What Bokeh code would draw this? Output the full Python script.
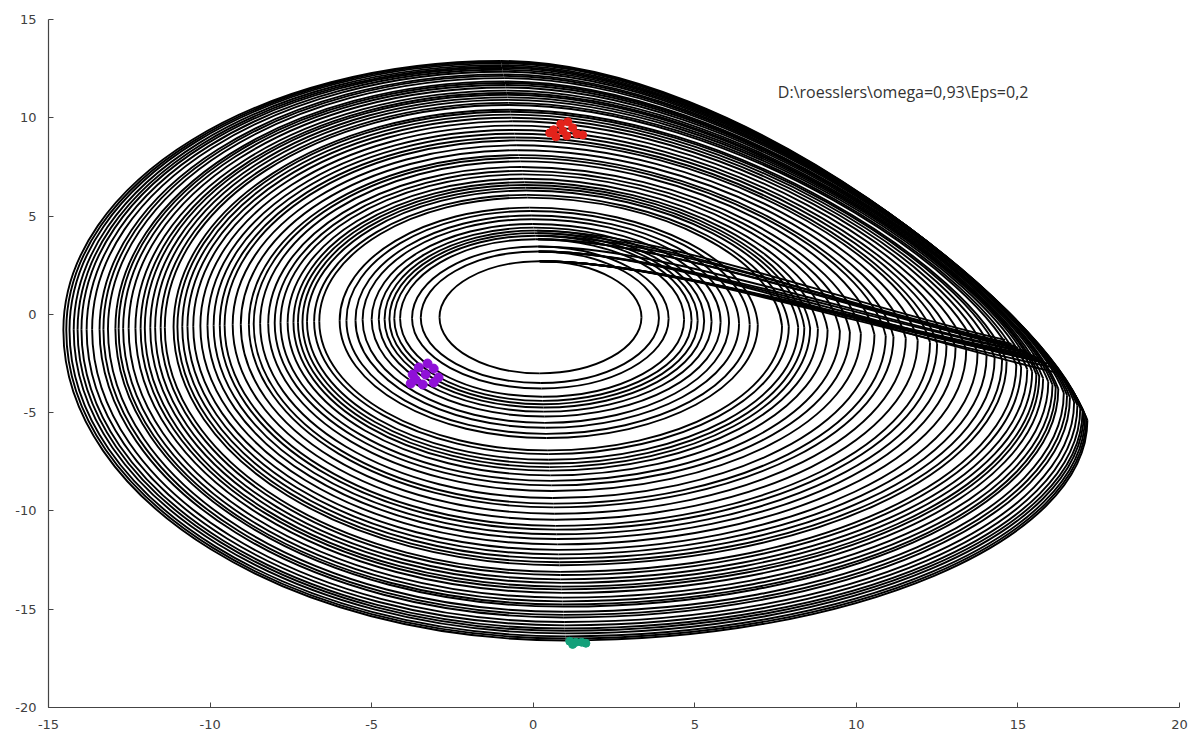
import numpy as np
from bokeh.plotting import figure
from bokeh.models import Range1d, FixedTicker, ColumnDataSource, Label
from bokeh.embed import file_html
from bokeh.resources import INLINE

# ---- loops of the trajectory (outer -> inner) ----
loop_left = [-14.54, -14.45, -14.35, -14.22, -14.10, -13.98, -13.82, -13.65, -13.42, -13.30,
             -13.16, -12.93, -12.83, -12.69, -12.52, -12.31, -12.15, -12.02, -11.85, -11.70,
             -11.53, -11.40, -11.13, -11.01, -10.86, -10.70, -10.52, -10.30, -10.08, -9.89,
             -9.70, -9.55, -9.30, -9.05, -8.80, -8.65, -8.45, -8.20, -8.00, -7.82,
             -7.60, -7.42, -7.28, -7.14, -7.00, -6.78, -6.62, -5.99, -5.78, -5.50,
             -5.28, -5.00, -4.78, -4.60, -4.45, -4.30, -4.12, -3.75, -3.48, -2.90]
loop_top = [12.89, 12.83, 12.77, 12.68, 12.60, 12.53, 12.44, 12.34, 12.21, 12.13,
            12.02, 11.85, 11.77, 11.67, 11.54, 11.38, 11.26, 11.17, 11.04, 10.91,
            10.76, 10.65, 10.41, 10.31, 10.16, 10.00, 9.82, 9.60, 9.38, 9.19,
            9.00, 8.85, 8.60, 8.35, 8.10, 7.96, 7.78, 7.50, 7.30, 7.12,
            6.90, 6.72, 6.58, 6.44, 6.30, 6.08, 5.94, 5.43, 5.26, 5.03,
            4.84, 4.60, 4.41, 4.26, 4.13, 4.00, 3.82, 3.45, 3.20, 2.70]
loop_bottom = [-16.59, -16.49, -16.38, -16.23, -16.10, -15.98, -15.82, -15.65, -15.42, -15.29,
               -15.13, -14.87, -14.76, -14.60, -14.41, -14.17, -13.99, -13.85, -13.66, -13.48,
               -13.26, -13.10, -12.76, -12.61, -12.42, -12.21, -11.98, -11.70, -11.43, -11.19,
               -10.95, -10.76, -10.45, -10.14, -9.82, -9.63, -9.34, -8.99, -8.70, -8.47,
               -8.19, -7.95, -7.77, -7.59, -7.40, -7.11, -6.92, -6.29, -6.08, -5.77,
               -5.52, -5.20, -4.95, -4.74, -4.57, -4.40, -4.19, -3.77, -3.49, -3.00]
loop_right = [17.15, 17.12, 17.08, 17.04, 17.00, 16.93, 16.84, 16.74, 16.61, 16.52,
              16.42, 16.25, 16.17, 16.07, 15.94, 15.78, 15.66, 15.57, 15.44, 15.29,
              15.10, 14.95, 14.65, 14.51, 14.28, 14.03, 13.75, 13.40, 13.07, 12.79,
              12.50, 12.28, 11.90, 11.53, 11.15, 10.91, 10.56, 10.14, 9.80, 9.49,
              9.11, 8.81, 8.57, 8.39, 8.20, 7.91, 7.70, 6.95, 6.70, 6.37,
              6.06, 5.80, 5.52, 5.29, 5.09, 4.90, 4.67, 4.19, 3.89, 3.35]
loop_right_y = [-5.39, -5.29, -5.18, -5.03, -4.90, -4.78, -4.62, -4.45, -4.22, -4.11,
                -3.99, -3.79, -3.70, -3.58, -3.43, -3.26, -3.14, -3.05, -2.91, -2.80,
                -2.67, -2.58, -2.40, -2.31, -2.20, -2.09, -1.96, -1.80, -1.69, -1.59,
                -1.50, -1.43, -1.32, -1.22, -1.14, -1.09, -1.03, -0.96, -0.90, -0.85,
                -0.79, -0.73, -0.70, -0.67, -0.65, -0.61, -0.59, -0.53, -0.51, -0.48,
                -0.44, -0.40, -0.37, -0.34, -0.32, -0.30, -0.27, -0.22, -0.18, -0.15]

# ---- reinjection strands from the fold back to the inner loops ----
reinj_start_x = [15.6, 15.5, 15.8, 15.7, 15.4, 15.9, 15.2, 15.0, 14.8, 15.3, 14.6, 16.1, 16.3, 14.9]
reinj_start_y = [-2.2, -2.1, -2.4, -2.3, -2.0, -2.5, -1.9, -1.7, -1.5, -1.9, -1.3, -2.7, -3.0, -1.6]
reinj_end_x = [0.2, 0.2, 0.2, 0.2, 0.17, 0.17, 0.16, 0.15, 0.14, 0.13, 0.12, 0.2, 0.17, 0.15]
reinj_end_y = [2.70, 2.70, 2.70, 2.70, 3.20, 3.20, 3.45, 3.82, 4.00, 4.13, 4.26, 2.70, 3.20, 3.82]

# ---- coloured marker clusters ----
red_x = [0.85, 1.07, 0.63, 0.91, 1.22, 0.70, 1.04, 1.35, 1.53, 0.51]
red_y = [9.69, 9.80, 9.39, 9.34, 9.49, 9.03, 9.08, 9.18, 9.13, 9.23]
purple_x = [-3.27, -3.54, -3.08, -3.73, -3.33, -2.93, -3.79, -3.42, -3.08, -3.64]
purple_y = [-2.50, -2.70, -2.76, -3.06, -3.06, -3.21, -3.52, -3.57, -3.47, -3.32]
teal_x = [1.13, 1.32, 1.50, 1.63, 1.22]
teal_y = [-16.63, -16.68, -16.68, -16.73, -16.79]

annotation_text = "D:\\roesslers\\omega=0,93\\Eps=0,2"
annotation_x = 7.57
annotation_y = 11.33
x_ticks = [-15, -10, -5, 0, 5, 10, 15, 20]
y_ticks = [-20, -15, -10, -5, 0, 5, 10, 15]

# ---- build quarter-loop bezier segments ----
L = np.array(loop_left); T = np.array(loop_top); B = np.array(loop_bottom)
R = np.array(loop_right); YR = np.array(loop_right_y)
span = R - L
size = (span - span.min()) / (span.max() - span.min())
XT = 0.2 - 1.2 * size
XB = 0.2 + 0.8 * size
YL = -0.15 - 0.65 * size
s = np.clip((R - 6.0) / 11.15, 0, 1)
k = 0.55

x0 = np.concatenate([XT, L, XB, R])
y0 = np.concatenate([T, YL, B, YR])
x1 = np.concatenate([L, XB, R, XT])
y1 = np.concatenate([YL, B, YR, T])
cx0 = np.concatenate([XT - k * (XT - L), L, XB + k * (R - XB), R - 1.3 * s])
cy0 = np.concatenate([T, YL - k * (YL - B), B, YR + (0.55 - 0.24 * s) * (T - YR)])
cx1 = np.concatenate([L, XB - k * (XB - L), R, XT + (0.55 - 0.14 * s) * (R - XT)])
cy1 = np.concatenate([YL + k * (T - YL), B, YR - k * (YR - B), T])
loops_src = ColumnDataSource(dict(x0=x0, y0=y0, x1=x1, y1=y1, cx0=cx0, cy0=cy0, cx1=cx1, cy1=cy1))

sx = np.array(reinj_start_x); sy = np.array(reinj_start_y)
ex = np.array(reinj_end_x); ey = np.array(reinj_end_y)
reinj_src = ColumnDataSource(dict(
    x0=sx, y0=sy, x1=ex, y1=ey,
    cx0=sx + 0.36 * (ex - sx), cy0=sy + 0.36 * (ey - sy),
    cx1=ex + 0.25 * (sx - ex), cy1=ey))

p = figure(frame_width=1131, frame_height=688,
           x_range=Range1d(-15, 20), y_range=Range1d(-20, 15),
           output_backend="svg", toolbar_location=None,
           min_border_left=48, min_border_right=10, min_border_top=19, min_border_bottom=30)
p.background_fill_color = "white"
p.border_fill_color = "white"
p.outline_line_color = None
p.grid.visible = False

p.bezier(x0="x0", y0="y0", x1="x1", y1="y1", cx0="cx0", cy0="cy0", cx1="cx1", cy1="cy1",
         source=loops_src, line_color="black", line_width=1.9)
p.bezier(x0="x0", y0="y0", x1="x1", y1="y1", cx0="cx0", cy0="cy0", cx1="cx1", cy1="cy1",
         source=reinj_src, line_color="black", line_width=1.9)

p.scatter(red_x, red_y, marker="circle", size=8, fill_color="#e3231b", line_color="#e3231b")
p.scatter(purple_x, purple_y, marker="circle", size=9, fill_color="#9010d8", line_color="#9010d8")
p.scatter(teal_x, teal_y, marker="circle", size=8, fill_color="#14a07a", line_color="#14a07a")

p.add_layout(Label(x=annotation_x, y=annotation_y, text=annotation_text,
                   text_font="Open Sans", text_font_size="16px", text_color="#333333",
                   text_baseline="middle", text_align="left"))

for ax, ticks in ((p.xaxis, x_ticks), (p.yaxis, y_ticks)):
    ax.ticker = FixedTicker(ticks=ticks)
    ax.major_label_overrides = {t: str(t) for t in ticks}
    ax.axis_line_color = "#444444"
    ax.axis_line_width = 1.2
    ax.major_tick_line_color = "#444444"
    ax.major_tick_in = 5
    ax.major_tick_out = 0
    ax.minor_tick_line_color = None
    ax.major_label_text_font = "DejaVu Sans"
    ax.major_label_text_font_size = "13px"
    ax.major_label_text_color = "#404040"
    ax.major_label_standoff = 12

open("out.html", "w").write(file_html(p, INLINE))
